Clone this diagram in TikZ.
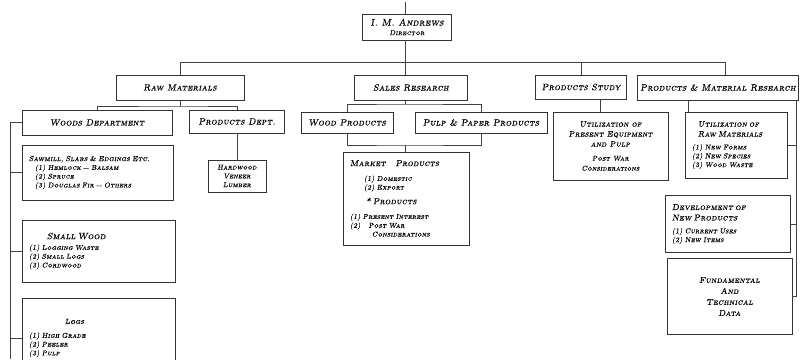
\documentclass[tikz,border=0pt]{standalone}
\usepackage{fontspec}
\newfontfamily\handfam{lmromancaps10-oblique.otf}[FakeBold=0.6,LetterSpace=4]
\newcommand\handfont{\handfam}
\newcommand\smallhand{\fontsize{7}{8.8}\selectfont}
\begin{document}
\begin{tikzpicture}[x=1pt,y=-1pt,
  box/.style={draw=black!80, line width=0.8pt, inner sep=2pt, align=center,
    font=\handfont\fontsize{9}{10.5}\selectfont},
  sub/.style={box, font=\handfont\fontsize{7}{8.8}\selectfont},
  lbox/.style={sub, align=left, inner xsep=7pt},
  conn/.style={draw=black!75, line width=0.8pt}]
\useasboundingbox (0,0) rectangle (801,359);
\clip (0,0) rectangle (801,359);

% level 0
\node[box, minimum width=89pt, minimum height=26pt] (dir) at (407,27)
  {\fontsize{9.5}{11}\selectfont I. M. Andrews\\[-1pt]\smallhand Director};

% level 1
\node[box, minimum width=128pt, minimum height=25pt] (raw) at (180,87.5) {Raw Materials};
\node[box, minimum width=113pt, minimum height=25pt] (sales) at (411,87.5) {Sales Research};
\node[box, minimum width=91pt, minimum height=24pt] (pstudy) at (581,87) {Products Study};
\node[box, minimum width=161pt, minimum height=25pt] (pmr) at (718,87.5) {Products \& Material Research};

% raw materials branch
\node[box, minimum width=150pt, minimum height=25pt] (woods) at (97,122.5) {Woods Department};
\node[box, minimum width=95pt, minimum height=23pt] (pdept) at (237,121.5) {Products Dept.};
\node[sub, minimum width=58pt, minimum height=32pt] (hardwood) at (237,176) {Hardwood\\Veneer\\Lumber};
\node[lbox, text width=137pt, minimum height=55pt] (sawmill) at (97.5,172.5)
  {\fontsize{7.4}{9}\selectfont Sawmill, Slabs \& Edgings Etc.\\
   \smallhand\hspace*{6pt}(1) Hemlock -- Balsam\\
   \smallhand\hspace*{6pt}(2) Spruce\\
   \smallhand\hspace*{6pt}(3) Douglas Fir -- Others};
\node[lbox, text width=139pt, minimum height=62pt] (small) at (98.5,251)
  {\fontsize{9}{10}\selectfont\hspace*{18pt}Small Wood\\[2pt]
   \smallhand (1) Logging Waste\\
   \smallhand (2) Small Logs\\
   \smallhand (3) Cordwood};
\node[lbox, text width=139pt, minimum height=80pt] (logs) at (98.5,338)
  {\fontsize{7.5}{9}\selectfont\hspace*{36pt}Logs\\[5pt]
   \smallhand (1) High Grade\\
   \smallhand (2) Peeler\\
   \smallhand (3) Pulp};

% sales research branch
\node[box, minimum width=92pt, minimum height=21pt] (woodprod) at (347,122.5) {Wood Products};
\node[box, minimum width=132pt, minimum height=21pt] (pulp) at (481,122.5) {Pulp \& Paper Products};
\node[lbox, text width=112pt, minimum height=93pt] (market) at (406,198.5)
  {\fontsize{8.5}{9.5}\selectfont Market\hspace{10pt}Products\\[6pt]
   \smallhand\hspace*{14pt}(1) Domestic\\
   \smallhand\hspace*{14pt}(2) Export\\[5pt]
   \fontsize{8.5}{9.5}\selectfont\hspace*{16pt}* Products\\[6pt]
   \smallhand (1) Present Interest\\
   \smallhand (2)\hspace{8pt}Post War\\
   \smallhand\hspace*{22pt}Considerations};

% products study branch
\node[box, minimum width=115pt, minimum height=68pt, font=\handfont\fontsize{8}{10}\selectfont] (utilpe) at (610.5,146)
  {Utilization of\\Present Equipment\\and Pulp\\[4pt]
   \smallhand Post War\\
   \smallhand Considerations};

% products & material research branch
\node[lbox, text width=88pt, minimum height=66pt] (utilrm) at (736,145)
  {\fontsize{8}{10}\selectfont\hspace*{6pt}Utilization of\\
   \fontsize{8}{10}\selectfont\hspace*{6pt}Raw Materials\\[4pt]
   \smallhand (1) New Forms\\
   \smallhand (2) New Species\\
   \smallhand (3) Wood Waste};
\node[lbox, text width=111pt, minimum height=57pt] (dev) at (727.5,224)
  {\fontsize{8.5}{10.5}\selectfont Development of\\
   \fontsize{8.5}{10.5}\selectfont New Products\\[4pt]
   \smallhand (1) Current Uses\\
   \smallhand (2) New Items};
\node[box, minimum width=125pt, minimum height=76pt, font=\handfont\fontsize{8.5}{11}\selectfont] (fund) at (729.5,296.5)
  {Fundamental\\And\\Technical\\Data};

% helper coordinates
\coordinate (spine) at (405,62);
\coordinate (topend) at (405,2);
\coordinate (busL) at (180,62);
\coordinate (busR) at (725,62);
\coordinate (rb) at (180,106);
\coordinate (sb) at (405,104);
\coordinate (mb) at (405,145);
\coordinate (wl) at (10,122.5);
\coordinate (lbot) at (10,359);
\coordinate (rl) at (796,100);

% connectors
\draw[conn] (topend) -- (dir.north -| topend);
\draw[conn] (dir.south -| spine) -- (spine);
\draw[conn] (busL) -- (busR);
\draw[conn] (busL) -- (raw.north);
\draw[conn] (spine) -- (sales.north -| spine);
\draw[conn] (pstudy.north) -- (pstudy.north |- busR);
\draw[conn] (busR) -- (pmr.north -| busR);

\draw[conn] (raw.south) -- (rb);
\draw[conn] (woods.north) |- (rb) -| (pdept.north);
\draw[conn] (pdept.south) -- (hardwood.north);
\draw[conn] (woods.west) -- (wl) -- (lbot);
\draw[conn] (sawmill.west) -- (sawmill.west -| wl);
\draw[conn] (small.west) -- (small.west -| wl);
\draw[conn] (logs.west) -- (logs.west -| wl);

\draw[conn] (sales.south -| sb) -- (sb);
\draw[conn] (woodprod.north) |- (sb) -| (pulp.north);
\draw[conn] (woodprod.south) |- (mb) -| (pulp.south);
\draw[conn] (mb) -- (market.north -| mb);

\draw[conn] ([xshift=19pt]pstudy.south) -- ([xshift=19pt]pstudy.south |- utilpe.north);

\draw[conn] ([xshift=4pt]utilrm.north west |- pmr.south) -- ([xshift=4pt]utilrm.north west);
\draw[conn] (rl) -- (rl |- fund.east);
\draw[conn] (utilrm.east) -- (utilrm.east -| rl);
\draw[conn] (dev.east) -- (dev.east -| rl);
\draw[conn] (fund.east) -- (fund.east -| rl);
\end{tikzpicture}
\end{document}
